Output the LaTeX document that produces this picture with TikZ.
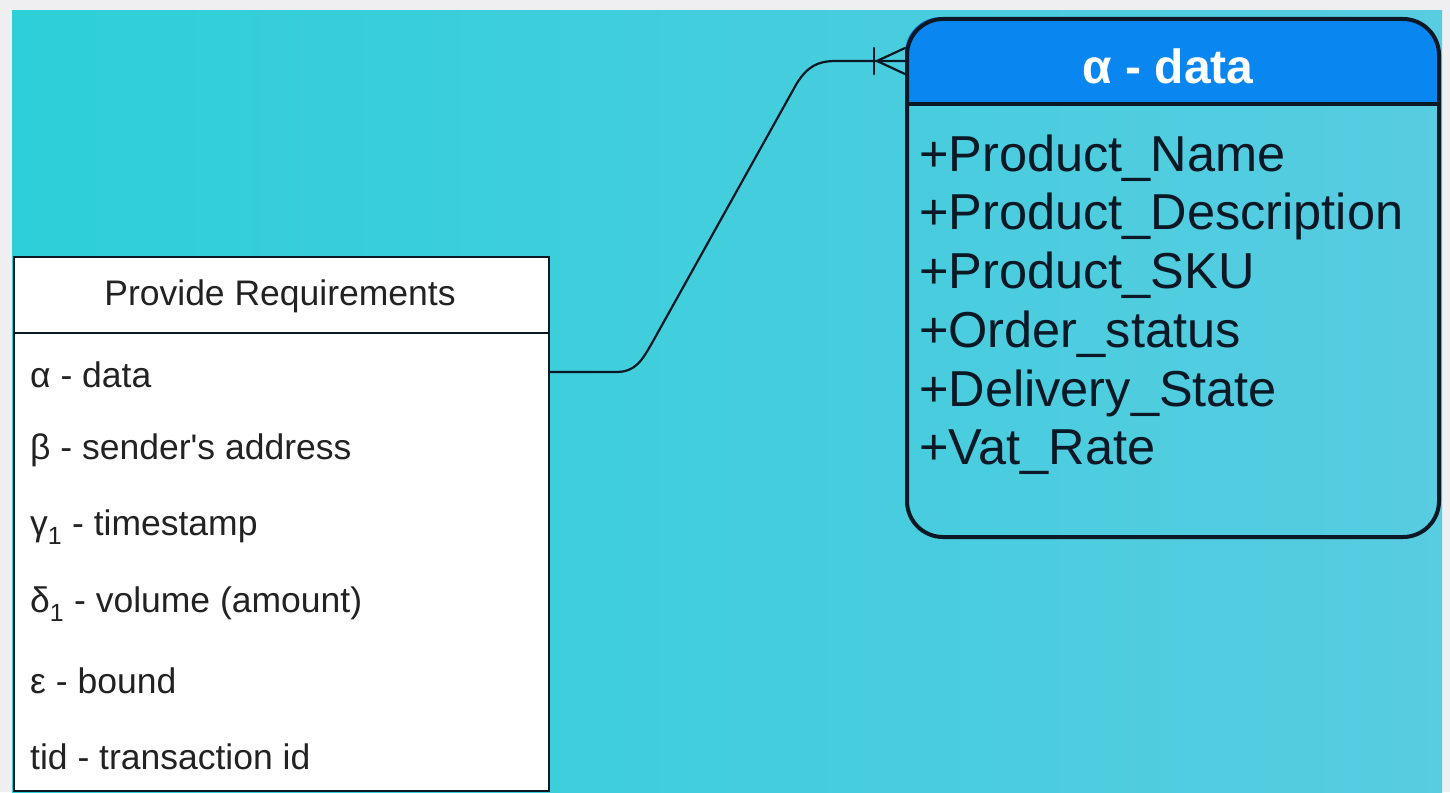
\documentclass[tikz,border=0pt]{standalone}
\usepackage{fontspec}
\setmainfont{Liberation Sans}
\usetikzlibrary{arrows.meta}
\definecolor{pagebg}{HTML}{EFEFF1}
\definecolor{cyanL}{HTML}{2DCFD9}
\definecolor{cyanR}{HTML}{58CCE1}
\definecolor{hdrblue}{HTML}{0A86F0}
\definecolor{lineblk}{HTML}{0B1826}
\definecolor{txtgray}{HTML}{222222}
\tikzset{
  rowtxt/.style={anchor=west, inner sep=0pt, text=txtgray, font=\fontsize{35.5}{40}\selectfont},
  attrtxt/.style={anchor=west, inner sep=0pt, text=lineblk, font=\fontsize{50.5}{58}\selectfont},
  conn/.style={draw=lineblk, line width=2.2pt, line cap=round, line join=round}
}
\begin{document}
\begin{tikzpicture}[x=1pt,y=-1pt]
\useasboundingbox (0,0) rectangle (1450,792);
\fill[pagebg] (0,0) rectangle (1450,792);
\shade[left color=cyanL, right color=cyanR] (12,11) rectangle (1442,792);

% left entity
\node[draw=lineblk, fill=white, line width=2pt, minimum width=535pt, minimum height=534pt, inner sep=0pt, anchor=north west] (req) at (13,256) {};
\draw[lineblk, line width=2pt] (13,333) -- (548,333);
\node[inner sep=0pt, text=txtgray, font=\fontsize{35.5}{40}\selectfont] (reqtitle) at (280,296) {Provide Requirements};
\node[rowtxt] (ra) at (30,375) {α - data};
\node[rowtxt] (rb) at (30,450) {β - sender\textquotesingle s address};
\node[rowtxt] (rc) at (30,527) {γ\textsubscript{1} - timestamp};
\node[rowtxt] (rd) at (30,604) {δ\textsubscript{1} - volume (amount)};
\node[rowtxt] (re) at (30,681) {ε - bound};
\node[rowtxt] (rf) at (30,757) {tid - transaction id};

% right entity
\begin{scope}
\clip[rounded corners=36pt] (905,17) rectangle (1437,535);
\fill[hdrblue] (905,17) rectangle (1437,104);
\end{scope}
\node[draw=lineblk, line width=4pt, rounded corners=36pt, minimum width=532pt, minimum height=518pt, inner sep=0pt, anchor=north west] (data) at (905,17) {};
\draw[lineblk, line width=4pt] (905,104) -- (1437,104);
\node[inner sep=0pt, text=white, font=\fontsize{48}{55}\selectfont\bfseries] (datatitle) at (1168,66) {α - data};
\node[attrtxt] (a1) at (919,158) {+Product\_Name};
\node[attrtxt] (a2) at (919,216) {+Product\_Description};
\node[attrtxt] (a3) at (919,275) {+Product\_SKU};
\node[attrtxt] (a4) at (919,334) {+Order\_status};
\node[attrtxt] (a5) at (919,393) {+Delivery\_State};
\node[attrtxt] (a6) at (919,452) {+Vat\_Rate};

% connector
\coordinate (cs) at (req.east |- 0,372);
\coordinate (ct) at (data.west |- 0,61);
\coordinate (cfoot) at (877,61);
\draw[conn] (cs) -- (616,372) .. controls (636,372) and (642,360) .. (652,343)
  -- (797,83) .. controls (808,66) and (818,61) .. (836,61) -- (ct);
\draw[conn] (874,48) -- (874,74);
\draw[conn] (cfoot) -- (data.west |- 0,48);
\draw[conn] (cfoot) -- (data.west |- 0,74);
\end{tikzpicture}
\end{document}
